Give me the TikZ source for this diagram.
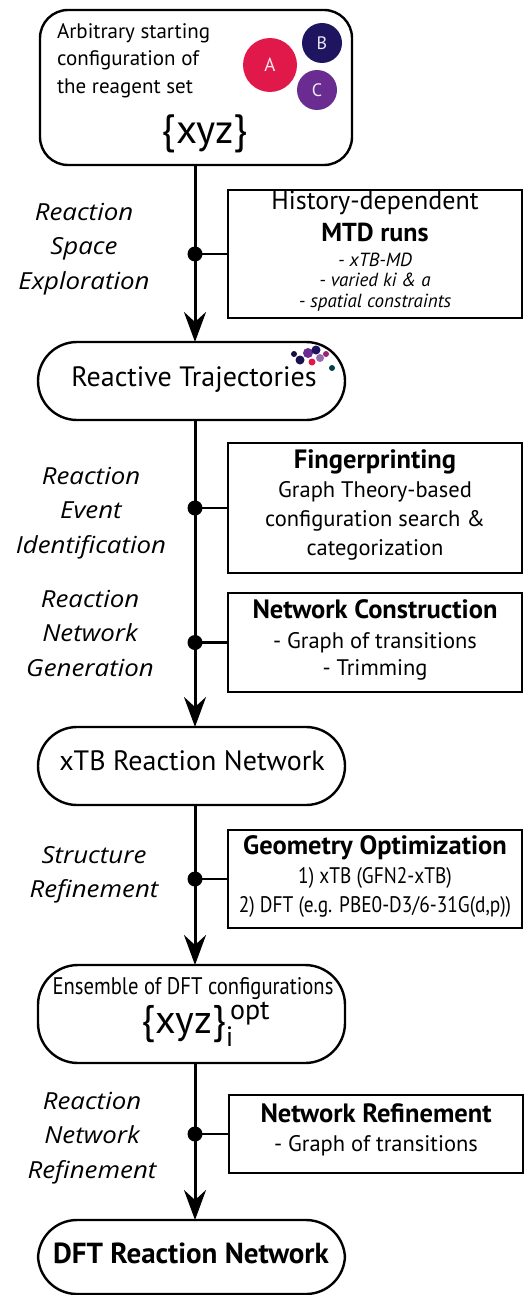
\documentclass[tikz,border=0pt]{standalone}
\usepackage{fontspec}
\setmainfont{PT Sans}
\newfontfamily\narrowfont[FakeStretch=0.86]{PT Sans}
\newfontfamily\phasefont[FakeStretch=1.1]{Open Sans}
\usetikzlibrary{arrows.meta}
\definecolor{atomA}{HTML}{E0194A}
\definecolor{atomB}{HTML}{1E1561}
\definecolor{atomC}{HTML}{6A2C91}
\tikzset{
  every node/.style={inner sep=0pt, outer sep=0pt},
  stagebox/.style={draw, line width=2.4pt, rounded corners=39pt, minimum width=307pt, minimum height=78pt},
  sidebox/.style={draw, line width=2.4pt, minimum width=294pt},
  flow/.style={line width=3pt},
  flowarrow/.style={line width=3pt, -{Stealth[length=30pt, width=22pt, inset=10pt]}},
  branch/.style={line width=2.4pt},
  junction/.style={circle, fill=black, minimum size=15pt},
  phase/.style={align=center, font=\fontsize{23.5}{34.5}\phasefont\itshape},
  boxtxt/.style={anchor=mid},
}
\begin{document}
\begin{tikzpicture}[x=1pt, y=-1pt]
\useasboundingbox (0,0) rectangle (531,1295);

% starting configuration
\node[draw, line width=2.4pt, rounded corners=28pt, minimum width=312pt, minimum height=155pt] (start) at (196,87.5) {};
\node[anchor=mid west, font=\fontsize{21}{21}\selectfont] (st1) at (57,36) {Arbitrary starting};
\node[anchor=mid west, font=\fontsize{21}{21}\selectfont] (st2) at (57,63) {configuration of};
\node[anchor=mid west, font=\fontsize{21}{21}\selectfont] (st3) at (57,91) {the reagent set};
\node[circle, fill=atomA, minimum size=54pt, text=white!90!atomA, font=\fontsize{19}{19}\selectfont] (atA) at (270,65) {A};
\node[circle, fill=atomB, minimum size=40pt, text=white!90!atomB, font=\fontsize{18}{18}\selectfont] (atB) at (322,43) {B};
\node[circle, fill=atomC, minimum size=40pt, text=white!90!atomC, font=\fontsize{18}{18}\selectfont] (atC) at (317,90) {C};
\node[boxtxt, font=\fontsize{41}{41}\selectfont] (xyz) at (205,141) {\{xyz\}};

% main stages
\node[stagebox] (traj) at (191.5,381) {};
\node[boxtxt, font=\fontsize{28}{28}\selectfont] (trajtxt) at (194,384) {Reactive Trajectories};
% small molecule snapshot
\begin{scope}
  \fill[atomB!80!black] (300,360) circle (4.5pt);
  \fill[atomC] (308,353) circle (5pt);
  \fill[atomB] (316,350) circle (4.5pt);
  \fill[atomC!70!white] (320,358) circle (4pt);
  \fill[atomA] (312,362) circle (3.5pt);
  \fill[atomB!70!black] (294,354) circle (3pt);
  \fill[atomC!60!atomA] (326,354) circle (3pt);
  \fill[teal!50!black] (332,368) circle (3pt);
\end{scope}

\node[stagebox] (xtb) at (191.5,766) {};
\node[boxtxt, font=\fontsize{28}{28}\selectfont] (xtbtxt) at (192,768) {xTB Reaction Network};

\node[stagebox, minimum height=98pt, rounded corners=40pt] (ens) at (191.5,1014) {};
\node[boxtxt, font=\fontsize{24}{24}\narrowfont] (enstxt) at (193,992) {Ensemble of DFT configurations};
\node[boxtxt, font=\fontsize{40}{40}\selectfont] (ensxyz) at (206,1031) {\{xyz\}$_{\mathrm{i}}^{\,\mathrm{opt}}$};

\node[stagebox, minimum height=74pt] (dft) at (191.5,1257) {};
\node[boxtxt, font=\fontsize{29}{29}\selectfont\bfseries] (dfttxt) at (191,1261) {DFT Reaction Network};

% side boxes
\node[sidebox, minimum height=128pt] (mtd) at (375,254) {};
\node[boxtxt, font=\fontsize{26}{26}\selectfont] at (375,207) {History-dependent};
\node[boxtxt, font=\fontsize{26}{26}\selectfont\bfseries] at (375,239) {MTD runs};
\node[boxtxt, font=\fontsize{19}{19}\selectfont\itshape] at (375,264) {- xTB-MD};
\node[boxtxt, font=\fontsize{19}{19}\selectfont\itshape] at (375,284) {- varied ki \& a};
\node[boxtxt, font=\fontsize{19}{19}\selectfont\itshape] at (375,305) {- spatial constraints};

\node[sidebox, minimum height=130pt] (fp) at (375,508) {};
\node[boxtxt, font=\fontsize{26.5}{26.5}\selectfont\bfseries] at (375,466) {Fingerprinting};
\node[boxtxt, font=\fontsize{22.5}{22.5}\selectfont] at (375,495) {Graph Theory-based};
\node[boxtxt, font=\fontsize{22.5}{22.5}\selectfont] at (375,524) {configuration search \&};
\node[boxtxt, font=\fontsize{22.5}{22.5}\selectfont] at (375,553) {categorization};

\node[sidebox, minimum height=99pt] (nc) at (375,642.5) {};
\node[boxtxt, font=\fontsize{26.5}{26.5}\selectfont\bfseries] at (375,616) {Network Construction};
\node[boxtxt, font=\fontsize{22.5}{22.5}\selectfont] at (375,646) {- Graph of transitions};
\node[boxtxt, font=\fontsize{22.5}{22.5}\selectfont] at (375,673) {- Trimming};

\node[sidebox, minimum height=98pt] (geo) at (375,879) {};
\node[boxtxt, font=\fontsize{26.5}{26.5}\selectfont\bfseries] at (375,852) {Geometry Optimization};
\node[boxtxt, font=\fontsize{22.5}{22.5}\narrowfont] at (375,881) {1) xTB (GFN2-xTB)};
\node[boxtxt, font=\fontsize{22.5}{22.5}\narrowfont] at (375,910) {2) DFT (e.g. PBE0-D3/6-31G(d,p))};

\node[sidebox, minimum height=78pt] (nr) at (376,1134) {};
\node[boxtxt, font=\fontsize{26.5}{26.5}\selectfont\bfseries] at (376,1120) {Network Refinement};
\node[boxtxt, font=\fontsize{22.5}{22.5}\selectfont] at (376,1149) {- Graph of transitions};

% phase labels
\node[phase] (ph1) at (84,249) {Reaction\\Space\\Exploration};
\node[phase] (ph2) at (91,513) {Reaction\\Event\\Identification};
\node[phase] (ph3) at (90,633) {Reaction\\Network\\Generation};
\node[phase] (ph4) at (94,875) {Structure\\Refinement};
\node[phase] (ph5) at (92,1138) {Reaction\\Network\\Refinement};

% junctions on the main line
\coordinate (spine) at (195,0);
\node[junction] (j1) at (spine |- mtd.west) {};
\node[junction] (j2) at (spine |- fp.west) {};
\node[junction] (j3) at (spine |- nc.west) {};
\node[junction] (j4) at (spine |- geo.west) {};
\node[junction] (j5) at (spine |- nr.west) {};

% main flow
\draw[flowarrow] (spine |- start.south) -- (spine |- traj.north);
\draw[flow] (spine |- traj.south) -- (j2.center);
\draw[flowarrow] (j2.center) -- (spine |- xtb.north);
\draw[flowarrow] (spine |- xtb.south) -- (spine |- ens.north);
\draw[flowarrow] (spine |- ens.south) -- (spine |- dft.north);

% branches to the method boxes
\draw[branch] (j1.center) -- (mtd.west);
\draw[branch] (j2.center) -- (fp.west);
\draw[branch] (j3.center) -- (nc.west);
\draw[branch] (j4.center) -- (geo.west);
\draw[branch] (j5.center) -- (nr.west);
\end{tikzpicture}
\end{document}
